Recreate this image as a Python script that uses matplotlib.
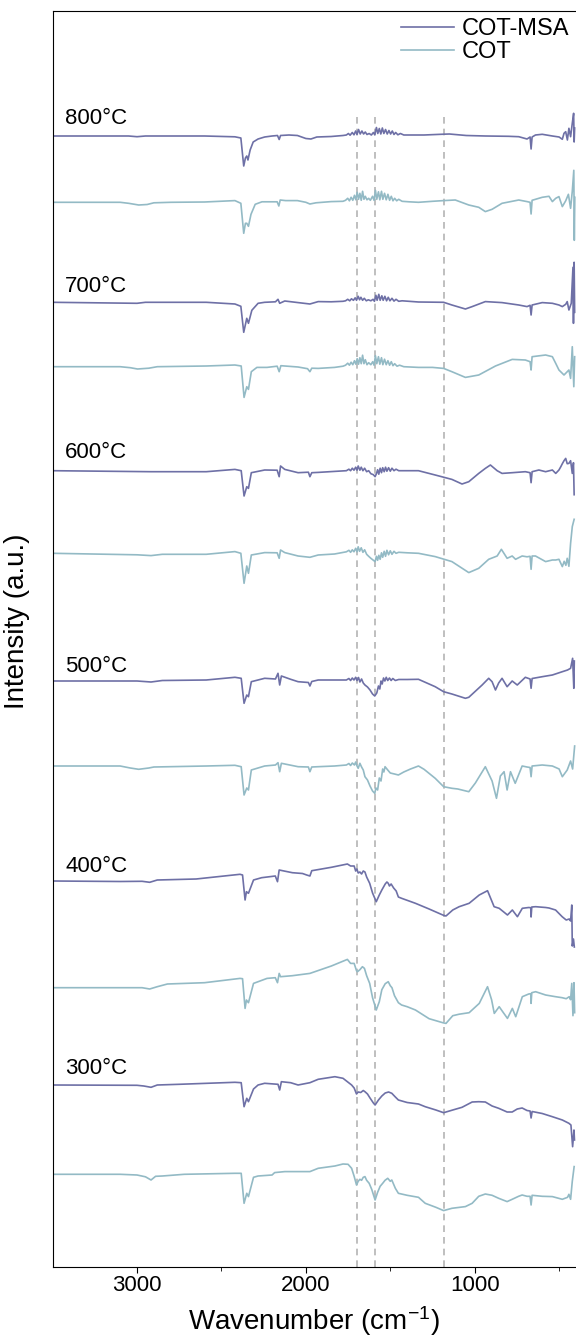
import numpy as np
import matplotlib.pyplot as plt

plt.rcParams['font.family'] = ['Liberation Sans', 'DejaVu Sans']
plt.rcParams['mathtext.default'] = 'regular'

# FTIR spectra, (wavenumber, intensity), a.u.
temps = ['800°C', '700°C', '600°C', '500°C', '400°C', '300°C']
off_msa = [1131, 964.7, 796.3, 586, 386, 182]
off_cot = [1064.7, 900.3, 713.7, 501, 279.3, 92.7]
label_y = [1148.7, 981, 814, 600.3, 400, 198]
peaks = [1700, 1590, 1180]

msa800 = [(3500,0),(3050,0),(3000,-0.7),(2950,0),(2600,0),(2420,-0.8),(2385,-2),(2368,-30),(2358,-22),(2350,-20),
          (2343,-24),(2330,-14),(2312,-6),(2283,-3),(2244,-1),(2200,0),(2168,0.5),(2158,-3.5),(2150,0.5),(2100,1),
          (2050,0.5),(2000,-2.5),(1970,-3),(1935,-1),(1850,-0.5),(1780,0.5),
          (1760,1),(1748,2.5),(1738,0.8),(1725,3.5),(1715,1.2),(1705,5),(1697,1.5),(1688,6.5),(1678,2),(1668,5),
          (1658,2),(1648,4),(1638,1.5),(1625,2.5),(1612,1),(1600,3.5),(1592,1.2),(1582,8.5),(1574,2.5),(1565,7.5),
          (1556,2),(1547,8),(1538,2.5),(1528,6.5),(1518,2),(1508,5.5),(1498,2),(1488,5),(1478,1.5),(1468,3.5),
          (1455,1.2),(1440,2.5),(1420,1),
          (1390,1),(1300,1),(1200,1.7),(1150,2),(1050,0.5),(937,0),(800,-0.3),(739,-0.7),(690,-3),(672,-1),
          (666,-13),(660,-1),(640,1),(600,1.7),(540,0),(500,-1),(481,-3.3),(471,2.7),(461,4.3),(451,-4),
          (442,7.7),(432,-0.7),(422,12.7),(414,22.7),(411,-6),(408,8)]

cot800 = [(3500,0),(3100,0),(3050,-1),(2990,-2.7),(2940,-2.2),(2900,-0.5),(2800,0),(2600,0.3),(2420,1.7),(2385,-1),
          (2368,-31),(2358,-21),(2350,-21),(2340,-24),(2325,-12),(2300,-2),(2260,0.5),(2170,0.5),(2160,-3.7),(2152,2.3),
          (2120,1.7),(2050,1.7),(2000,0),(1976,-1.7),(1940,-0.5),(1850,0.7),(1780,1),
          (1765,2),(1752,4),(1742,1.5),(1732,5),(1722,2),(1712,7),(1704,2.5),(1696,10),(1688,3),(1680,9),
          (1672,2),(1664,11),(1656,3),(1648,6),(1638,2.5),(1628,4),(1618,2),(1605,6),(1596,2),(1588,12),
          (1580,3),(1570,10.5),(1562,2.5),(1552,11),(1544,3),(1534,9),(1524,2.5),(1514,8),(1504,2),(1494,6),
          (1484,1.5),(1474,4),(1462,1.5),(1450,3),(1430,1),
          (1390,0.5),(1333,0),(1250,1),(1184,1.7),(1115,2.3),(1035,-2.7),(976,-5),(937,-9.3),(897,-7),(838,-1),
          (739,2.3),(690,0.7),(672,0),(666,-11.7),(660,2),(600,5),(560,6),(540,0.7),(520,4),(501,5.7),
          (481,-4.3),(461,1.5),(445,8),(432,-6),(422,11),(413,32),(410,-38),(407,5)]

msa700 = [(3500,0),(3000,-1),(2950,0),(2590,0),(2420,-1.7),(2385,-4),(2368,-30),(2350,-16),(2340,-21),(2320,-8),
          (2283,-1),(2244,0),(2180,0.5),(2165,3),(2155,-1),(2125,1.3),(2046,-0.3),(1976,-1.7),(1927,0.7),(1850,0.5),
          (1780,1),
          (1765,1.5),(1752,3),(1740,1.5),(1730,3.5),(1718,2),(1708,4.5),(1700,2),(1690,6),(1682,2.5),(1674,5),
          (1664,2),(1654,4),(1642,1.5),(1630,2.5),(1615,1.5),(1602,3),(1594,1),(1585,7),(1578,2),(1568,8),
          (1560,2),(1550,6.5),(1542,2),(1532,6),(1522,1.5),(1512,5),(1502,1.5),(1490,4),(1478,1.2),(1466,3),
          (1450,1),(1430,1.5),
          (1333,0.3),(1184,0),(1135,-2.7),(1055,-6.7),(1015,-4.3),(937,0.7),(838,-0.3),(739,-2.7),(690,-4.3),
          (672,-3),(666,-12.7),(660,-2.7),(600,-0.3),(540,-1),(501,-2.7),(481,-4.3),(461,-2),(452,0.7),
          (442,-7.7),(428,-1),(418,35),(415,-21),(411,40),(408,-10)]

cot700 = [(3500,0),(3100,0),(3040,-1),(2997,-2.3),(2930,-1.5),(2880,0),(2590,0.7),(2420,1.7),(2383,0.7),(2366,-30.7),
          (2350,-20),(2340,-22.7),(2323,-5),(2290,-0.7),(2230,-0.7),(2170,0.5),(2158,-5),(2148,1),(2125,0.7),
          (2046,-0.3),(1990,-2),(1976,-5),(1965,-1.5),(1927,-1.7),(1830,-0.7),(1780,0.5),
          (1765,1.5),(1752,3.5),(1742,1.5),(1732,4.5),(1722,2),(1712,6),(1704,2.5),(1696,8),(1688,2.5),(1680,9),
          (1672,3),(1664,11.5),(1656,3),(1648,7),(1638,2),(1628,4),(1615,2),(1604,5),(1596,1.5),(1588,11),
          (1580,3),(1570,10),(1562,2.5),(1552,9),(1544,2),(1534,7.5),(1524,2),(1514,6),(1504,1.5),(1494,5),
          (1484,1),(1474,3),(1460,0.5),(1445,1.5),(1420,0),
          (1333,-0.7),(1250,-0.7),(1184,-1.7),(1135,-5),(1055,-10.7),(976,-8.3),(877,0.7),(778,7.3),(700,6.7),
          (672,5),(666,-3.3),(660,10),(580,11.7),(540,10),(520,3.3),(501,-3.3),(471,-8.3),(442,-3.3),
          (432,-11.7),(422,20),(413,-20),(408,10)]

msa600 = [(3500,0),(2917,-1),(2590,-1),(2420,1.3),(2383,0),(2366,-25.3),(2350,-16),(2340,-17.7),(2323,-2),(2244,0.7),
          (2170,0.5),(2158,-6),(2150,4.7),(2125,1.3),(2046,-2),(1985,-1.5),(1976,-6),(1965,-2),(1927,-1.7),
          (1830,-0.7),(1760,0),
          (1745,1.5),(1735,0),(1725,2.5),(1715,0.5),(1705,3.5),(1697,0.5),(1690,4.7),(1680,0.5),(1672,3.5),
          (1662,0),(1652,2.5),(1640,-1),(1628,0),(1615,-3),(1600,-4),(1590,-6),(1582,-3),(1575,1),(1568,-3.5),
          (1560,2.5),(1552,-2),(1545,3),(1536,-1),(1528,3.5),(1520,-0.5),(1510,3),(1500,-0.5),(1490,2.5),
          (1478,0),(1466,1.5),(1450,0),
          (1333,0),(1234,-4.3),(1135,-8.7),(1075,-13.3),(1035,-11),(976,-2.7),(937,2.3),(907,5.7),(867,0),
          (838,-2.7),(778,-2),(700,-1),(672,-2),(666,-12),(660,-1),(620,0.7),(580,-1),(540,0.7),(520,-2.7),
          (501,0.7),(490,4),(481,7),(471,10),(461,12.3),(452,7),(442,7.3),(432,10),(422,-2.7),(415,8),(411,-24)]

cot600 = [(3500,0),(3000,-1.5),(2917,-2.3),(2850,-1),(2590,-1),(2420,1.7),(2385,0),(2366,-30),(2350,-12.7),
          (2340,-20),(2323,-1.7),(2244,0.7),(2170,0.5),(2158,-5),(2150,3.3),(2125,0.7),(2046,-2.7),(1976,-4),
          (1927,-1.7),(1830,-0.7),(1760,1.5),
          (1745,3),(1735,1),(1725,3.5),(1715,1.5),(1705,5),(1697,1.5),(1690,6.5),(1682,2),(1672,5.5),(1662,1),
          (1652,3.5),(1640,-1),(1628,-3),(1615,-5),(1600,-7),(1590,-8.3),(1582,-3),(1575,-7),(1568,-2),(1560,-6),
          (1552,0.5),(1545,-4),(1536,2),(1528,-3),(1520,3),(1510,-1.5),(1500,2.5),(1490,-1),(1478,2),(1466,0),
          (1450,1),
          (1400,0.5),(1333,0),(1234,-3.3),(1135,-8.3),(1035,-19.3),(976,-15),(917,-6),(867,-2.7),(842,4),
          (808,-5),(778,-2.7),(758,-6),(719,-2.7),(690,-3.5),(672,-3),(666,-16),(660,-2.7),(640,-2.7),(580,-8.3),
          (540,-6.7),(520,-6.7),(501,-6),(481,-13.3),(470,-8),(460,-12),(452,-5),(442,-13),(432,10),(422,26.7),
          (411,34)]

msa500 = [(3500,0),(3000,0),(2917,-1),(2850,0.5),(2590,1),(2420,3.7),(2383,2.7),(2366,-22.3),(2350,-14),(2340,-15.7),
          (2323,-0.7),(2244,2.7),(2180,2),(2165,7.7),(2155,-4),(2145,5),(2090,1.7),(2046,-0.7),(1985,-1.5),
          (1976,-5),(1965,-0.5),(1927,1),(1830,1),(1760,1),
          (1745,2.5),(1735,0.5),(1725,3),(1715,1),(1705,3.7),(1697,0.5),(1688,3.5),(1680,-1),(1670,2),(1660,-2),
          (1650,-4),(1635,-6),(1620,-9),(1605,-13),(1592,-15),(1580,-12),(1570,-5),(1562,-8),(1555,0),(1548,-3),
          (1540,3),(1532,0),(1524,3.7),(1515,0.5),(1505,3),(1495,0.5),(1485,2.5),(1470,0.5),(1450,1.5),
          (1400,1.5),(1333,1.7),(1234,-5.7),(1184,-10.7),(1135,-13),(1055,-17.3),(1035,-16.3),(956,-4),(917,2.7),
          (897,-0.7),(877,-9),(858,-2),(838,2.7),(808,-5.7),(778,0),(748,-4),(700,3.7),(672,2),(666,-7.3),
          (660,2.5),(600,4.3),(540,6),(481,9.3),(450,11),(432,12.7),(420,22.7),(413,-7.3),(410,20)]

cot500 = [(3500,0),(3100,0),(3040,-2),(2990,-3.3),(2930,-2),(2900,-1),(2590,0),(2420,0.7),(2383,-0.7),(2366,-29),
          (2350,-22),(2340,-24),(2323,-4),(2244,0),(2180,1),(2165,3.3),(2155,-5.7),(2145,2.7),(2046,-0.7),
          (1985,-1),(1976,-5.7),(1965,-1),(1927,-0.7),(1830,0),(1760,1),
          (1745,2.5),(1735,0.5),(1725,3),(1712,1),(1705,4),(1697,0),(1690,-2.3),(1680,2.7),(1670,-1),(1660,-4),
          (1650,-10.7),(1635,-14),(1620,-20),(1605,-25),(1592,-27.3),(1585,-22),(1575,-24),(1565,-12),(1555,-15),
          (1545,-3),(1538,-6),(1531,-0.7),(1515,-4),(1500,-7),(1475,-8),(1452,-9),(1420,-6),(1380,-3),(1333,0),
          (1300,-3.3),(1234,-12.3),(1184,-20.7),(1135,-22.3),(1100,-23),(1035,-25.7),(996,-17),(937,-0.7),
          (897,-15),(871,-32.3),(848,-10),(826,-5.7),(808,-24),(788,-5.7),(760,-17.3),(719,0),(690,-1),
          (672,-1.5),(666,-10.7),(660,0),(600,1),(540,0),(500,-3),(481,-10.7),(452,-4),(432,5),(420,-3),
          (411,14.3),(408,20)]

msa400 = [(3500,0),(3100,-0.5),(2970,-0.3),(2925,-1.3),(2880,1),(2650,2),(2390,6.7),(2375,6),(2360,-19),
          (2352,-10.7),(2340,-12.3),(2310,1),(2262,3.3),(2181,5),(2168,-0.7),(2158,11),(2080,8.3),(2020,7.5),
          (1995,6),(1976,5),(1965,10.3),(1849,13.7),(1754,17),(1735,15),(1714,15),(1705,10),(1698,12),(1690,8),
          (1680,9),(1670,7),(1660,10),(1650,9),(1640,4),(1622,-2.3),(1605,-12),(1583,-20.7),(1565,-14),
          (1550,-9),(1540,-6),(1530,-3),(1520,-1),(1512,-2.3),(1505,-5),(1495,-3),(1480,-7),(1465,-10),
          (1452,-16),(1433,-17.3),(1351,-22.3),(1270,-28),(1189,-34),(1170,-35),(1130,-29),(1092,-25.7),
          (1033,-22.3),(973,-14),(924,-9.7),(885,-25.7),(855,-27.3),(830,-30.7),(806,-34),(777,-29),(747,-35.7),
          (718,-27.3),(680,-26.5),(668,-26.7),(666,-36),(662,-26),(639,-25.7),(580,-26.5),(560,-27),(521,-29),
          (482,-35.7),(458,-39),(440,-38),(432,-40),(425,-24),(422,-65),(415,-58),(410,-66)]

cot400 = [(3500,0),(3100,0),(2970,0),(2925,-1.3),(2880,1),(2820,3.7),(2600,5),(2390,9.3),(2375,9),(2360,-20.7),
          (2352,-12.3),(2340,-15),(2310,4.3),(2230,9.3),(2181,10),(2168,5),(2158,14.3),(2150,11),(2080,12),
          (1976,14.3),(1849,21.7),(1754,28.3),(1735,24.3),(1714,24.3),(1700,17),(1694,16),(1680,18),(1665,21),
          (1653,19.3),(1640,12),(1622,4.3),(1605,-10),(1583,-22.3),(1565,-14),(1550,-2),(1530,4),(1512,6),
          (1500,2),(1490,0),(1475,-8),(1452,-15),(1433,-17.3),(1400,-19),(1351,-22.3),(1270,-31),(1189,-35),
          (1170,-35.7),(1130,-28),(1092,-26.5),(1033,-25),(973,-15.7),(924,1),(900,-12),(884,-25.7),(855,-19),
          (830,-25),(806,-30.7),(777,-20.7),(757,-29),(718,-9),(680,-6.3),(668,-6),(666,-15.7),(662,-5),
          (639,-4),(580,-7.3),(521,-9),(482,-10),(458,-11),(440,-9),(432,-12),(425,4.3),(418,-28),(412,5),
          (408,-25)]

msa300 = [(3500,0),(3000,-0.3),(2960,-1),(2917,-2.3),(2880,0),(2750,0.7),(2420,2.7),(2383,2.3),(2366,-21.7),
          (2350,-13.3),(2340,-16.7),(2310,-4),(2283,0),(2244,1.7),(2165,0.7),(2155,-5),(2145,3.3),(2090,2.3),
          (2046,0),(1976,2.3),(1927,5.7),(1828,8.3),(1780,6.7),(1729,0),(1714,-3),(1700,-9),(1690,-7),
          (1675,-7.5),(1660,-5.5),(1650,-6.7),(1635,-9),(1620,-13),(1600,-18),(1590,-20),(1570,-15),(1550,-11),
          (1530,-8),(1510,-7),(1491,-8.3),(1470,-12),(1452,-15),(1400,-17.5),(1333,-19),(1293,-21.7),
          (1230,-25),(1184,-27.7),(1130,-25),(1075,-22.3),(1015,-17),(976,-16.7),(937,-17),(897,-21),
          (858,-23.3),(808,-27),(778,-27),(748,-24),(719,-23),(690,-25.5),(672,-26),(666,-33),(660,-26.5),
          (600,-28.5),(540,-31.7),(481,-35),(442,-38.3),(430,-40),(420,-61.7),(412,-45),(409,-55)]

cot300 = [(3500,0),(3100,0),(3000,-0.7),(2950,-2.5),(2917,-5.7),(2890,-2),(2850,-1.7),(2720,0),(2420,1),(2383,1),
          (2366,-29),(2350,-19),(2340,-22.3),(2310,-3),(2283,-1.7),(2200,-0.7),(2185,1.7),(2125,2.7),(1976,2.7),
          (1927,6),(1828,8.3),(1780,10.3),(1750,10),(1729,6),(1714,-2),(1700,-10.7),(1690,-7),(1680,-5),
          (1670,-6),(1660,-3),(1650,-2.3),(1640,-6),(1625,-9),(1610,-15),(1590,-25.7),(1575,-18),(1560,-12),
          (1545,-9),(1531,-6),(1515,-4),(1500,-7),(1491,-5.7),(1470,-14),(1452,-19),(1400,-21),(1333,-23),
          (1293,-29),(1230,-33),(1184,-36.3),(1135,-34),(1055,-32.3),(1015,-29),(976,-22),(937,-19.7),
          (897,-21),(858,-24),(808,-27.3),(778,-25),(740,-22),(719,-20.7),(690,-22),(672,-22),(666,-30.7),
          (660,-21),(600,-22),(540,-22.3),(481,-25),(450,-23),(442,-20),(432,-25),(422,-7),(411,7.7)]

msa_sets = [msa800, msa700, msa600, msa500, msa400, msa300]
cot_sets = [cot800, cot700, cot600, cot500, cot400, cot300]

c_msa = '#6e70a6'
c_cot = '#93bac5'

fig = plt.figure(figsize=(5.76, 13.4), dpi=100)
ax = fig.add_axes([52.6/576, 1 - 1267/1340, (576 - 52.6)/576, (1267 - 10.7)/1340])

for i in range(len(temps)):
  m = np.array(msa_sets[i])
  c = np.array(cot_sets[i])
  ax.plot(m[:, 0], m[:, 1] + off_msa[i], color=c_msa, lw=1.2,
          label='COT-MSA' if i == 0 else None)
  ax.plot(c[:, 0], c[:, 1] + off_cot[i], color=c_cot, lw=1.2,
          label='COT' if i == 0 else None)
  ax.text(3425, label_y[i], temps[i], fontsize=16, ha='left', va='center')

for p in peaks:
  ax.plot([p, p], [0, 1152], color='#b4b4b4', lw=1.2, ls=(0, (4, 3)), zorder=0)

ax.set_xlim(3500, 400)
ax.set_ylim(0, 1256.3)
ax.set_xticks([3000, 2000, 1000])
ax.set_xticks([2500, 1500, 500], minor=True)
ax.set_yticks([])
ax.tick_params(axis='x', which='major', labelsize=16, length=4, pad=2)
ax.tick_params(axis='x', which='minor', length=3)
ax.spines['right'].set_visible(False)

ax.set_xlabel('Wavenumber (cm$^{-1}$)', fontsize=20, labelpad=6)
ax.set_ylabel('Intensity (a.u.)', fontsize=20)
ax.yaxis.set_label_coords(-0.043, 0.514)

ax.legend(loc='upper right', bbox_to_anchor=(1.0, 1.0), frameon=False, fontsize=17,
          handlelength=2.25, handletextpad=0.3, labelspacing=0.05,
          borderaxespad=0.1, borderpad=0.2)

fig.savefig('out.png', dpi=100)
